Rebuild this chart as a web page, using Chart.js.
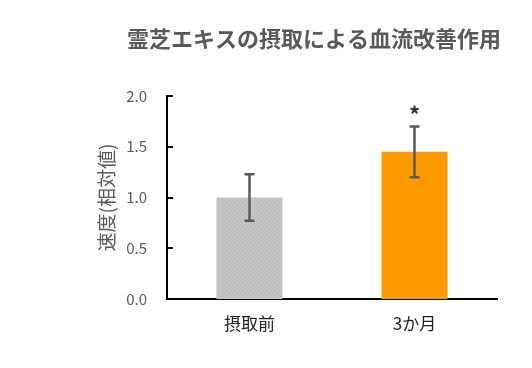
<!DOCTYPE html>
<html>
<head>
<meta charset="utf-8">
<script src="https://cdn.jsdelivr.net/npm/chart.js@4"></script>
<style>
  html, body { margin: 0; padding: 0; background: #fff; }
  #wrap { width: 532px; height: 368px; }
</style>
</head>
<body>
<div id="wrap"><canvas id="chart" width="532" height="368"></canvas></div>
<script>
const chartTitle = '霊芝エキスの摂取による血流改善作用';
const categories = ['摂取前', '3か月'];
const speedValues = [1.0, 1.45];
const errorValues = [0.23, 0.25];
const significance = ['', '*'];
const yTicks = [0, 0.5, 1.0, 1.5, 2.0];

const FONT = '"Noto Sans CJK JP", "Noto Sans", sans-serif';

// dotted grey texture like the original bar fill
function greyPattern() {
  const c = document.createElement('canvas');
  c.width = 4; c.height = 4;
  const g = c.getContext('2d');
  g.fillStyle = '#c4c4c4';
  g.fillRect(0, 0, 4, 4);
  g.fillStyle = '#b2b2b2';
  g.fillRect(0, 0, 1, 1);
  g.fillRect(2, 2, 1, 1);
  g.fillStyle = '#d0d0d0';
  g.fillRect(2, 0, 1, 1);
  g.fillRect(0, 2, 1, 1);
  return g.createPattern(c, 'repeat');
}

const extras = {
  id: 'extras',
  afterDatasetsDraw(chart) {
    const { ctx, scales: { x, y } } = chart;
    ctx.save();

    // inward tick marks on the y axis
    ctx.strokeStyle = '#000';
    ctx.lineWidth = 2;
    yTicks.forEach(v => {
      if (v === 0) return;
      const py = Math.round(y.getPixelForValue(v));
      ctx.beginPath();
      ctx.moveTo(x.left, py);
      ctx.lineTo(x.left + 6, py);
      ctx.stroke();
    });

    // error bars
    ctx.strokeStyle = '#595959';
    ctx.lineWidth = 2.5;
    speedValues.forEach((v, i) => {
      const px = x.getPixelForValue(i);
      const top = y.getPixelForValue(v + errorValues[i]);
      const bot = y.getPixelForValue(v - errorValues[i]);
      ctx.beginPath();
      ctx.moveTo(px, top); ctx.lineTo(px, bot);
      ctx.moveTo(px - 5, top); ctx.lineTo(px + 5, top);
      ctx.moveTo(px - 5, bot); ctx.lineTo(px + 5, bot);
      ctx.stroke();

      if (significance[i]) {
        ctx.fillStyle = '#333';
        ctx.font = 'bold 22px ' + FONT;
        ctx.textAlign = 'center';
        ctx.textBaseline = 'middle';
        ctx.fillText(significance[i], px, top - 12);
      }
    });

    // title
    ctx.fillStyle = '#595959';
    ctx.font = 'bold 22px ' + FONT;
    ctx.textAlign = 'center';
    ctx.textBaseline = 'middle';
    ctx.fillText(chartTitle, 314, 39);
    ctx.restore();
  }
};

new Chart(document.getElementById('chart'), {
  type: 'bar',
  data: {
    labels: categories,
    datasets: [{
      data: speedValues,
      backgroundColor: [greyPattern(), '#ff9900'],
      borderWidth: 0,
      categoryPercentage: 1,
      barPercentage: 0.4
    }]
  },
  options: {
    responsive: false,
    animation: false,
    devicePixelRatio: 1,
    layout: { padding: { left: 0, right: 35, top: 96, bottom: 0 } },
    plugins: {
      legend: { display: false },
      tooltip: { enabled: false }
    },
    scales: {
      x: {
        grid: { display: false, drawTicks: false },
        border: { color: '#000', width: 2 },
        ticks: { color: '#222', padding: 14, font: { family: FONT, size: 17 } },
        afterFit(s) { s.height = 69; }
      },
      y: {
        min: 0,
        max: 2,
        afterBuildTicks(s) { s.ticks = yTicks.map(v => ({ value: v })); },
        grid: { display: false, drawTicks: false },
        border: { color: '#000', width: 2 },
        ticks: {
          color: '#595959',
          padding: 20,
          font: { family: FONT, size: 15 },
          callback: v => v.toFixed(1)
        },
        title: {
          display: true,
          text: '速度(相対値)',
          color: '#595959',
          font: { family: FONT, size: 19 },
          padding: { top: 95, bottom: 0 }
        },
        afterFit(s) { s.width = 167; }
      }
    }
  },
  plugins: [extras]
});
</script>
</body>
</html>
